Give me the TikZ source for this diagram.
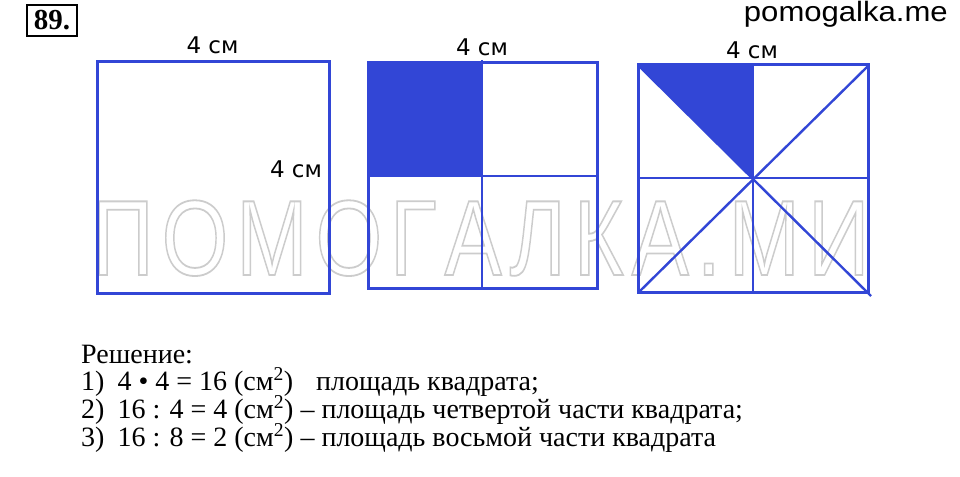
\documentclass[tikz,border=0pt]{standalone}
\usepackage{fontspec}
\setmainfont{Liberation Serif}
\newfontfamily\labfont{DejaVu Sans}
\newfontfamily\sitefont{Liberation Sans}
\usepackage{graphicx}
\definecolor{sqblue}{RGB}{50,70,214}
\newcommand\wg{\hspace{10pt}}
\newcommand\outlinetext[1]{\special{pdf:literal direct 1 Tr 1.8 w}#1\special{pdf:literal direct 0 Tr}}
\tikzset{
 sqline/.style={draw=sqblue, line width=3pt},
 inline/.style={draw=sqblue, line width=2.4pt},
 qfill/.style={fill=sqblue},
 dimlabel/.style={font=\labfont\fontsize{23}{23}\selectfont, anchor=base, inner sep=0},
 solline/.style={font=\fontsize{28}{32}\selectfont, anchor=base west, inner sep=0},
}
\begin{document}
\begin{tikzpicture}[x=1pt,y=-1pt]
\useasboundingbox (0,0) rectangle (960,476);
\fill[white] (0,0) rectangle (960,476);
% watermark
\node[anchor=base west, inner sep=0, text=black!20, font=\sitefont\fontsize{107}{107}\selectfont] (wm) at (92,275)
  {\scalebox{0.8}[1]{\outlinetext{П\wg О\wg М\wg О\wg Г\wg А\wg Л\wg К\wg А\wg .\wg М\wg И}}};
% number box
\node[draw, line width=2pt, minimum width=50pt, minimum height=31pt, inner sep=0,
  font=\fontsize{29}{29}\selectfont\bfseries] (num) at (52,20.5) {89.};
% site
\node[anchor=base east, inner sep=0, font=\sitefont\fontsize{28}{28}\selectfont] (site) at (948,22) {\scalebox{1.11}[1]{pomogalka.me}};
% square 1
\draw[sqline] (97,62) rectangle (329,293);
% square 2
\fill[qfill] (368,63) rectangle (482,176);
\draw[inline] (482,60) -- (482,288);
\draw[inline] (368,176) -- (597,176);
\draw[sqline] (368,63) rectangle (597,288);
% square 3
\fill[qfill] (638,65) -- (753,65) -- (753,178) -- cycle;
\draw[inline] (753,65) -- (753,292);
\draw[inline] (638,178) -- (868,178);
\draw[inline] (638,65) -- (871,296);
\draw[inline] (640,291) -- (868,66);
\draw[sqline] (638,65) rectangle (868,292);
% labels
\node[dimlabel] (l1t) at (212.5,54) {4 см};
\node[dimlabel] (l1r) at (296,177) {4 см};
\node[dimlabel] (l2t) at (482,56) {4 см};
\node[dimlabel] (l3t) at (752,59) {4 см};
% solution
\node[solline] (s0) at (81,363) {Решение:};
\node[solline] (s1) at (81,390) {1)\hspace{13pt}4 • 4 = 16 (см\textsuperscript{2})\hspace{23pt}площадь квадрата;};
\node[solline] (s2) at (81,418) {2)\hspace{13pt}16 : 4 = 4 (см\textsuperscript{2}) – площадь четвертой части квадрата;};
\node[solline] (s3) at (81,446) {3)\hspace{13pt}16 : 8 = 2 (см\textsuperscript{2}) – площадь восьмой части квадрата};
\end{tikzpicture}
\end{document}
